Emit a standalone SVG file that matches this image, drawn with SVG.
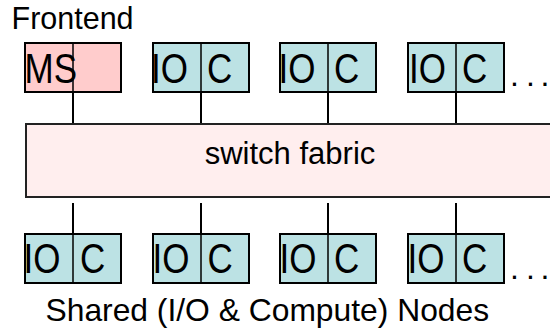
<svg xmlns="http://www.w3.org/2000/svg" width="550" height="331" viewBox="0 0 550 331">
  <style>
    text { font-family: "Liberation Sans", Arial, sans-serif; fill: #000; }
    .node { stroke: #000; stroke-width: 2; }
    .io { fill: #BCE2E4; }
    .ms { fill: #FFCCCC; }
    .fabric { fill: #FFEEEE; stroke: #222; stroke-width: 2; }
    .div { stroke: #000; stroke-width: 1.5; }
    .lbl { font-size: 35px; }
    .dots { font-size: 32px; }
    .wire { stroke: #000; stroke-width: 2; fill: none; }
  </style>

  <text id="title-frontend" x="11.5" y="28.5" style="font-size:30.5px">Frontend</text>

  <!-- links between the nodes and the fabric -->
  <g id="connectors">
    <line class="wire" x1="73" y1="92" x2="73" y2="124"/>
    <line class="wire" x1="201" y1="92" x2="201" y2="124"/>
    <line class="wire" x1="328" y1="92" x2="328" y2="124"/>
    <line class="wire" x1="456" y1="92" x2="456" y2="124"/>
    <line class="wire" x1="73" y1="203" x2="73" y2="234"/>
    <line class="wire" x1="201" y1="203" x2="201" y2="234"/>
    <line class="wire" x1="328" y1="203" x2="328" y2="234"/>
    <line class="wire" x1="456" y1="203" x2="456" y2="234"/>
  </g>

  <g id="switch-fabric">
    <rect class="fabric" x="26" y="124" width="540" height="73"/>
    <text x="290" y="164" text-anchor="middle" style="font-size:31px">switch fabric</text>
  </g>

  <!-- frontend row -->
  <g id="node-ms">
    <rect class="node ms" x="25" y="43" width="96" height="49"/>
    <line class="div" x1="73" y1="43" x2="73" y2="92"/>
    <text class="lbl" transform="translate(24.5,82.5) scale(1,1.2)">MS</text>
  </g>
  <g id="node-top-2">
    <rect class="node io" x="153" y="43" width="96" height="49"/>
    <line class="div" x1="201" y1="43" x2="201" y2="92"/>
    <text class="lbl" transform="translate(151,82.5) scale(1,1.2)">IO</text>
    <text class="lbl" transform="translate(207,82.5) scale(1,1.2)">C</text>
  </g>
  <g id="node-top-3">
    <rect class="node io" x="280" y="43" width="96" height="49"/>
    <line class="div" x1="328" y1="43" x2="328" y2="92"/>
    <text class="lbl" transform="translate(278.5,82.5) scale(1,1.2)">IO</text>
    <text class="lbl" transform="translate(334,82.5) scale(1,1.2)">C</text>
  </g>
  <g id="node-top-4">
    <rect class="node io" x="408" y="43" width="96" height="49"/>
    <line class="div" x1="456" y1="43" x2="456" y2="92"/>
    <text class="lbl" transform="translate(409,82.5) scale(1,1.2)">IO</text>
    <text class="lbl" transform="translate(462,82.5) scale(1,1.2)">C</text>
  </g>
  <text id="more-top" class="dots" x="510 526 540.5" y="85.5">...</text>

  <!-- shared node row -->
  <g id="node-bot-1">
    <rect class="node io" x="25" y="234" width="96" height="49"/>
    <line class="div" x1="73" y1="234" x2="73" y2="283"/>
    <text class="lbl" transform="translate(23.5,273) scale(1,1.2)">IO</text>
    <text class="lbl" transform="translate(80,273) scale(1,1.2)">C</text>
  </g>
  <g id="node-bot-2">
    <rect class="node io" x="153" y="234" width="96" height="49"/>
    <line class="div" x1="201" y1="234" x2="201" y2="283"/>
    <text class="lbl" transform="translate(152.5,273) scale(1,1.2)">IO</text>
    <text class="lbl" transform="translate(207.5,273) scale(1,1.2)">C</text>
  </g>
  <g id="node-bot-3">
    <rect class="node io" x="280" y="234" width="96" height="49"/>
    <line class="div" x1="328" y1="234" x2="328" y2="283"/>
    <text class="lbl" transform="translate(279.5,273) scale(1,1.2)">IO</text>
    <text class="lbl" transform="translate(334,273) scale(1,1.2)">C</text>
  </g>
  <g id="node-bot-4">
    <rect class="node io" x="408" y="234" width="96" height="49"/>
    <line class="div" x1="456" y1="234" x2="456" y2="283"/>
    <text class="lbl" transform="translate(407.5,273) scale(1,1.2)">IO</text>
    <text class="lbl" transform="translate(462,273) scale(1,1.2)">C</text>
  </g>
  <text id="more-bottom" class="dots" x="510 526 540.5" y="279">...</text>

  <text id="title-shared" x="45.5" y="320.5" style="font-size:31.8px">Shared (I/O &amp; Compute) Nodes</text>
</svg>
